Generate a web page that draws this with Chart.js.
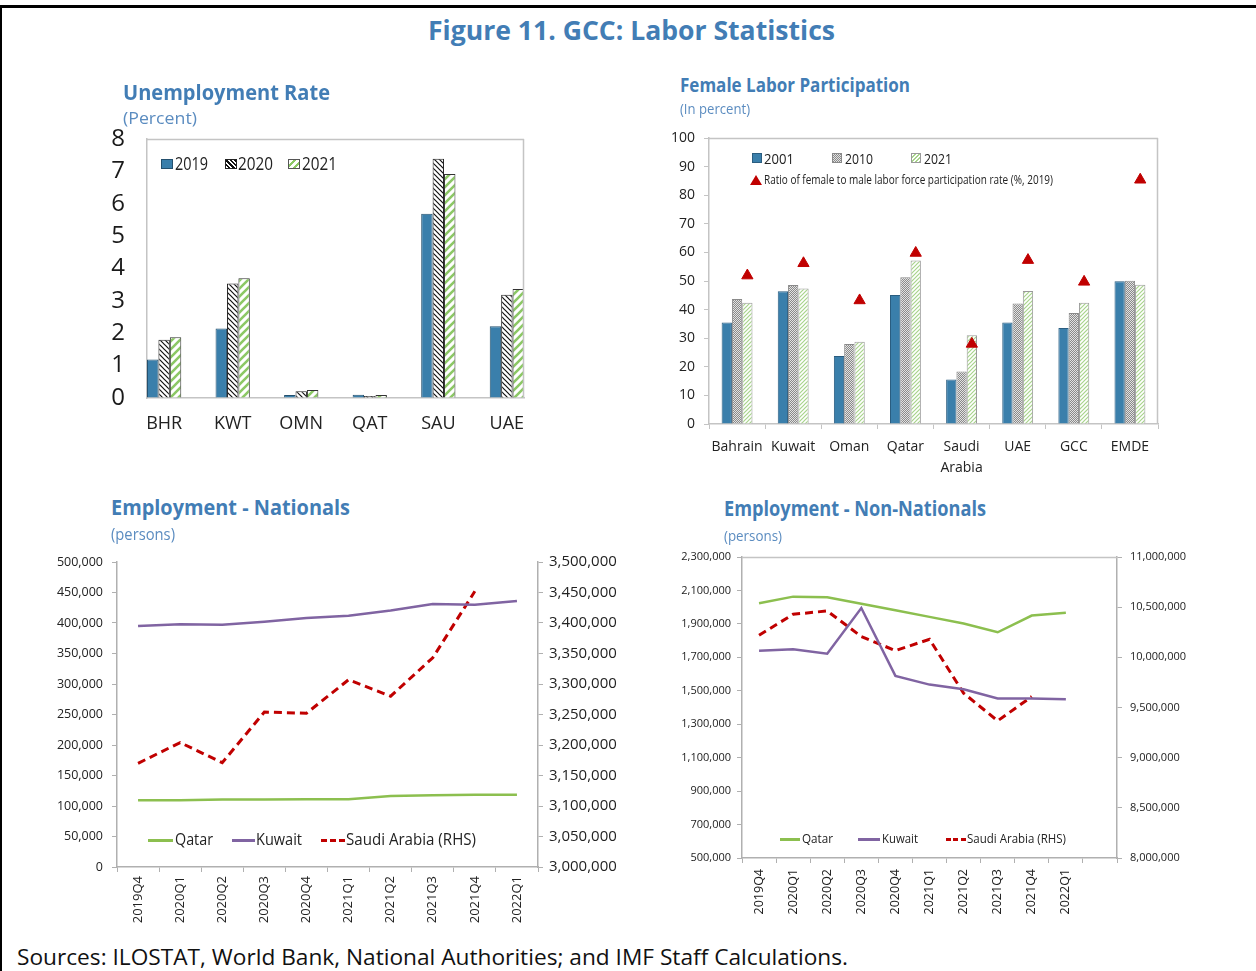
<!DOCTYPE html>
<html><head><meta charset="utf-8">
<script src="https://cdn.jsdelivr.net/npm/chart.js@4/dist/chart.umd.min.js"></script>
<style>
html,body{margin:0;padding:0;background:#fff;}
body{width:1256px;height:971px;position:relative;overflow:hidden;font-family:"Open Sans",sans-serif;}
.fr-top{position:absolute;left:0;top:5px;width:1256px;height:3px;background:#000;}
.fr-left{position:absolute;left:0;top:5px;width:2px;height:966px;background:#000;}
.t{position:absolute;white-space:nowrap;transform-origin:0 50%;}
canvas{position:absolute;}
.sw{position:absolute;box-sizing:border-box;}
</style></head>
<body>
<div class="fr-top"></div><div class="fr-left"></div>
<canvas id="c1" width="460" height="340" style="left:100px;top:100px"></canvas>
<canvas id="c2" width="540" height="370" style="left:650px;top:115px"></canvas>
<canvas id="c3" width="600" height="395" style="left:40px;top:540px"></canvas>
<canvas id="c4" width="560" height="395" style="left:660px;top:535px"></canvas>
<script>
// ---------------- DATA ----------------
const unempCats = ['BHR','KWT','OMN','QAT','SAU','UAE'];
const unemp2019 = [1.19, 2.15, 0.09, 0.10, 5.69, 2.22];
const unemp2020 = [1.80, 3.54, 0.21, 0.06, 7.39, 3.19];
const unemp2021 = [1.88, 3.70, 0.25, 0.09, 6.92, 3.37];

const flpCats  = ['Bahrain','Kuwait','Oman','Qatar',['Saudi','Arabia'],'UAE','GCC','EMDE'];
const flp2001  = [35.5, 46.4, 23.8, 45.1, 15.6, 35.5, 33.6, 49.9];
const flp2010  = [43.7, 48.6, 28.0, 51.3, 18.4, 42.1, 38.8, 50.1];
const flp2021  = [42.4, 47.4, 28.8, 57.2, 31.0, 46.5, 42.4, 48.7];
const flpRatio = [51.9, 56.2, 43.2, 59.8, 28.0, 57.3, 49.7, 85.4];

const quarters  = ['2019Q4','2020Q1','2020Q2','2020Q3','2020Q4','2021Q1','2021Q2','2021Q3','2021Q4','2022Q1'];
const natQatar  = [109500,109500,110500,110500,111000,111000,116500,117500,118300,118300];
const natKuwait = [395000,398000,397000,402000,408000,412000,420500,431000,430000,436000];
const natSaudi  = [3170000,3204000,3171000,3254000,3252000,3307000,3280000,3343000,3452000,null];

const nonQuarters = [...quarters, ''];
const nonQatar  = [2023000,2063000,2059000,2021000,1981000,1942000,1902000,1850000,1950000,1967000];
const nonKuwait = [1740000,1748000,1722000,1995000,1589000,1537000,1509000,1454000,1454000,1450000];
const nonSaudi  = [10220000,10429000,10462000,10207000,10067000,10180000,9643000,9367000,9609000,null];

// ---------------- STYLE HELPERS ----------------
Chart.defaults.font.family = "'Open Sans', sans-serif";
Chart.defaults.color = '#222';
const BLUE = '#3a7fab', GREEN_LINE = '#8cbf4f', PURPLE = '#8064a2', RED = '#c00000', AXIS = '#b5b5b5';

function hatch(bg, fg, size, lw, dir){
  const c = document.createElement('canvas'); c.width = c.height = size;
  const x = c.getContext('2d');
  x.fillStyle = bg; x.fillRect(0,0,size,size);
  x.strokeStyle = fg; x.lineWidth = lw; x.beginPath();
  if (dir > 0) { x.moveTo(-1,size+1); x.lineTo(size+1,-1); x.moveTo(-2,2); x.lineTo(2,-2); x.moveTo(size-2,size+2); x.lineTo(size+2,size-2); }
  else { x.moveTo(-1,-1); x.lineTo(size+1,size+1); x.moveTo(size-2,-2); x.lineTo(size+2,2); x.moveTo(-2,size-2); x.lineTo(2,size+2); }
  x.stroke();
  return x.createPattern(c,'repeat');
}
function stipple(){
  const c = document.createElement('canvas'); c.width = c.height = 2;
  const x = c.getContext('2d');
  x.fillStyle = '#e2e2e2'; x.fillRect(0,0,2,2);
  x.fillStyle = '#8a8a8a'; x.fillRect(0,0,1,1); x.fillRect(1,1,1,1);
  return x.createPattern(c,'repeat');
}
const fixW = w => s => { s.width = w; };
const fixH = h => s => { s.height = h; };
const fmt = v => Number(v).toLocaleString('en-US');
const toXY = arr => arr.map((v,i) => ({x:i, y:v}));
const catTicks = cats => s => { s.ticks = cats.map((_, i) => ({value: i})); };

const framePlugin = {
  id: 'frame',
  afterDatasetsDraw(chart, args, o) {
    const {ctx, chartArea: a} = chart;
    ctx.save(); ctx.strokeStyle = o.color || AXIS; ctx.lineWidth = o.width || 1; ctx.beginPath();
    if (o.top) { ctx.moveTo(a.left, a.top + 0.5); ctx.lineTo(a.right, a.top + 0.5); }
    if (o.right) { ctx.moveTo(a.right - 0.5, a.top); ctx.lineTo(a.right - 0.5, a.bottom); }
    ctx.stroke(); ctx.restore();
  }
};
const basePlugins = {legend:{display:false}, tooltip:{enabled:false}};

// ---------------- CHART 1: Unemployment ----------------
new Chart(document.getElementById('c1'), {
  type: 'bar',
  data: { datasets: [
    {data: toXY(unemp2019), backgroundColor: BLUE, borderColor: '#24506e', borderWidth: 1},
    {data: toXY(unemp2020), backgroundColor: hatch('#fff','#111',5,1.2,-1), borderColor: '#222', borderWidth: 1},
    {data: toXY(unemp2021), backgroundColor: hatch('#fff','#8cc865',8,2.6,1), borderColor: '#333', borderWidth: 1}
  ]},
  options: {
    responsive:false, animation:false,
    layout:{padding:{left:0, top:39, right:36, bottom:0}},
    datasets:{bar:{categoryPercentage:0.5, barPercentage:1.0}},
    plugins:{...basePlugins, frame:{top:true, right:true, color:'#c4c4c4', width:1.5}},
    scales:{
      x:{type:'linear', offset:false, min:-0.25, max:unempCats.length - 0.75, afterFit:fixH(42), afterBuildTicks:catTicks(unempCats),
         ticks:{autoSkip:false, maxRotation:0, font:{size:18}, color:'#222', padding:15,
                callback: v => unempCats[Math.round(v)]},
         grid:{display:true, drawOnChartArea:false, drawTicks:false}, border:{color:'#c4c4c4', width:1.5}},
      y:{min:0, max:8, afterFit:fixW(47),
         ticks:{stepSize:1, autoSkip:false, font:{size:24}, color:'#1a1a1a', padding:22},
         grid:{display:true, drawOnChartArea:false, drawTicks:false}, border:{color:'#c4c4c4', width:1.5}}
    }
  },
  plugins:[framePlugin]
});

// ---------------- CHART 2: Female Labor Participation ----------------
const FLP_CAT_PCT = 0.55;
const ratioShift = FLP_CAT_PCT / 3;   // markers sit over the third (2021) bar of each group
new Chart(document.getElementById('c2'), {
  type: 'bar',
  data: { datasets: [
    {type:'line', data: flpRatio.map((v,i) => ({x:i + ratioShift, y:v})), showLine:false,
     pointStyle:'triangle', pointRadius:6.5, pointBackgroundColor:RED, pointBorderColor:RED, pointBorderWidth:1, order:-1},
    {data: toXY(flp2001), backgroundColor: BLUE, borderColor:'#2a5d80', borderWidth:1},
    {data: toXY(flp2010), backgroundColor: stipple(), borderColor:'#8a8a8a', borderWidth:1},
    {data: toXY(flp2021), backgroundColor: hatch('#fff','#a8d48c',4,1.2,1), borderColor:'#9a9a9a', borderWidth:1}
  ]},
  options: {
    responsive:false, animation:false,
    layout:{padding:{left:0, top:23, right:32, bottom:0}},
    datasets:{bar:{categoryPercentage:FLP_CAT_PCT, barPercentage:1.0}},
    plugins:{...basePlugins, frame:{top:true, right:true, color:'#c4c4c4', width:1.5}},
    scales:{
      x:{type:'linear', offset:false, min:-0.5, max:flpCats.length - 0.5, afterFit:fixH(61), afterBuildTicks:catTicks(flpCats),
         ticks:{autoSkip:false, maxRotation:0, font:{size:14, lineHeight:1.5}, color:'#222', padding:8,
                callback: v => flpCats[Math.round(v)]},
         grid:{display:true, drawOnChartArea:false, offset:true, tickLength:5, color:'#c4c4c4'}, border:{color:'#c4c4c4', width:1.5}},
      y:{min:0, max:100, afterFit:fixW(59),
         ticks:{stepSize:10, font:{size:14}, color:'#222', padding:9},
         grid:{display:true, drawOnChartArea:false, tickLength:5, color:'#c4c4c4'}, border:{color:'#c4c4c4', width:1.5}}
    }
  },
  plugins:[framePlugin]
});

// ---------------- CHART 3: Employment - Nationals ----------------
new Chart(document.getElementById('c3'), {
  type: 'line',
  data: { labels: quarters, datasets: [
    {data: natQatar, borderColor: GREEN_LINE, borderWidth: 2.5, pointRadius:0, tension:0, yAxisID:'y'},
    {data: natKuwait, borderColor: PURPLE, borderWidth: 2.5, pointRadius:0, tension:0, yAxisID:'y'},
    {data: natSaudi, borderColor: RED, borderWidth: 3, borderDash:[8,5], pointRadius:0, tension:0, yAxisID:'y2'}
  ]},
  options: {
    responsive:false, animation:false,
    layout:{padding:{left:0, top:22, right:0, bottom:0}},
    plugins:{...basePlugins},
    scales:{
      x:{afterFit:fixH(68), offset:true,
         ticks:{autoSkip:false, minRotation:90, maxRotation:90, font:{size:13}, color:'#222', padding:4},
         grid:{display:true, drawOnChartArea:false, offset:true, tickLength:5, color:'#b0b0b0'}, border:{color:'#b0b0b0', width:1.5}},
      y:{position:'left', min:0, max:500000, afterFit:fixW(77),
         ticks:{stepSize:50000, font:{size:12.5}, color:'#222', padding:9, callback: fmt},
         grid:{display:true, drawOnChartArea:false, tickLength:5, color:'#b0b0b0'}, border:{color:'#b0b0b0', width:1.5}},
      y2:{position:'right', min:3000000, max:3500000, afterFit:fixW(102),
         ticks:{stepSize:50000, font:{size:15}, color:'#222', padding:6, callback: fmt},
         grid:{display:true, drawOnChartArea:false, tickLength:5, color:'#b0b0b0'}, border:{color:'#b0b0b0', width:1.5}}
    }
  }
});

// ---------------- CHART 4: Employment - Non-Nationals ----------------
new Chart(document.getElementById('c4'), {
  type: 'line',
  data: { labels: nonQuarters, datasets: [
    {data: nonQatar, borderColor: GREEN_LINE, borderWidth: 2.5, pointRadius:0, tension:0, yAxisID:'y'},
    {data: nonKuwait, borderColor: PURPLE, borderWidth: 2.5, pointRadius:0, tension:0, yAxisID:'y'},
    {data: nonSaudi, borderColor: RED, borderWidth: 3, borderDash:[8,5], pointRadius:0, tension:0, yAxisID:'y2'}
  ]},
  options: {
    responsive:false, animation:false,
    layout:{padding:{left:0, top:22, right:0, bottom:0}},
    plugins:{...basePlugins, frame:{top:true, color:'#c4c4c4', width:1.5}},
    scales:{
      x:{afterFit:fixH(72), offset:true,
         ticks:{autoSkip:false, minRotation:90, maxRotation:90, font:{size:12.5}, color:'#222', padding:6},
         grid:{display:true, drawOnChartArea:false, offset:true, tickLength:5, color:'#b0b0b0'}, border:{color:'#b0b0b0', width:1.5}},
      y:{position:'left', min:500000, max:2300000, afterFit:fixW(82),
         ticks:{stepSize:200000, font:{size:11}, color:'#222', padding:6, callback: fmt},
         grid:{display:true, drawOnChartArea:false, tickLength:5, color:'#b0b0b0'}, border:{color:'#b0b0b0', width:1.5}},
      y2:{position:'right', min:8000000, max:11000000, afterFit:fixW(103),
         ticks:{stepSize:500000, font:{size:11}, color:'#222', padding:8, callback: fmt},
         grid:{display:true, drawOnChartArea:false, tickLength:5, color:'#b0b0b0'}, border:{color:'#b0b0b0', width:1.5}}
    }
  },
  plugins:[framePlugin]
});

// ---------------- TEXT & LEGENDS (HTML) ----------------
function place(txt, x, y, size, width, o) {
  o = o || {};
  const el = document.createElement('div'); el.className = 't'; el.textContent = txt;
  el.style.left = x + 'px'; el.style.top = (y - 0.63 * size) + 'px';
  el.style.fontSize = size + 'px'; el.style.lineHeight = (1.2 * size) + 'px';
  el.style.fontWeight = o.bold ? '700' : '400'; el.style.color = o.color || '#222';
  document.body.appendChild(el);
  if (width) { const w = el.getBoundingClientRect().width; el.style.transform = 'scaleX(' + (width / w) + ')'; }
  return el;
}
function box(x, y, w, h, css) {
  const el = document.createElement('div'); el.className = 'sw';
  el.style.left = x + 'px'; el.style.top = y + 'px'; el.style.width = w + 'px'; el.style.height = h + 'px';
  Object.assign(el.style, css); document.body.appendChild(el); return el;
}
const TITLE = '#427db5', SUB = '#5b8cc0';
function drawTexts() {
  place('Figure 11. GCC: Labor Statistics', 428, 31, 26, 407, {bold:true, color:TITLE});
  place('Unemployment Rate', 123, 93, 21, 207, {bold:true, color:TITLE});
  place('(Percent)', 123, 119, 17, 74, {color:SUB});
  place('Female Labor Participation', 680, 86, 20, 230, {bold:true, color:TITLE});
  place('(In percent)', 680, 110, 14, 70, {color:SUB});
  place('Employment - Nationals', 111, 508, 21, 239, {bold:true, color:TITLE});
  place('(persons)', 111, 535, 16, 64, {color:SUB});
  place('Employment - Non-Nationals', 724, 509, 21, 262, {bold:true, color:TITLE});
  place('(persons)', 724, 535, 15, 58, {color:SUB});
  place('Sources: ILOSTAT, World Bank, National Authorities; and IMF Staff Calculations.', 17, 957, 22, 831, {color:'#111'});

  // chart 1 legend
  box(161, 159, 12, 10, {background: BLUE, border:'1px solid #24506e'});
  place('2019', 175, 164, 18, 33);
  box(225, 159, 12, 10, {background:'repeating-linear-gradient(45deg,#fff 0 1.6px,#111 1.6px 3.2px)', border:'1px solid #222'});
  place('2020', 238, 164, 18, 35);
  box(288, 159, 12, 10, {background:'repeating-linear-gradient(135deg,#fff 0 3px,#8cc865 3px 5px)', border:'1px solid #555'});
  place('2021', 302, 164, 18, 35);

  // chart 2 legend
  box(752, 153, 10, 10, {background: BLUE, border:'1px solid #2a5d80'});
  place('2001', 764, 158, 15, 30);
  box(832, 153, 10, 10, {background:'repeating-conic-gradient(#8a8a8a 0 25%, #e2e2e2 0 50%) 0 0/2px 2px', border:'1px solid #8a8a8a'});
  place('2010', 845, 158, 15, 28);
  box(911, 153, 10, 10, {background:'repeating-linear-gradient(135deg,#fff 0 1.5px,#a8d48c 1.5px 3px)', border:'1px solid #9a9a9a'});
  place('2021', 924, 158, 15, 28);
  box(750, 175, 12, 10, {background: RED, clipPath:'polygon(50% 0, 100% 100%, 0 100%)'});
  place('Ratio of female to male labor force participation rate (%, 2019)', 764, 180.5, 12, 289);

  // chart 3 legend
  box(148, 839, 25, 2.5, {background: GREEN_LINE});
  place('Qatar', 175, 840, 16, 38);
  box(232, 839, 23, 2.5, {background: PURPLE});
  place('Kuwait', 256, 840, 16, 46);
  box(321, 838.5, 24, 3, {background:'repeating-linear-gradient(90deg,' + RED + ' 0 6px,transparent 6px 9px)'});
  place('Saudi Arabia (RHS)', 346, 840, 16, 130);

  // chart 4 legend
  box(780, 838, 20, 2.5, {background: GREEN_LINE});
  place('Qatar', 802, 839, 12.5, 31);
  box(858, 838, 22, 2.5, {background: PURPLE});
  place('Kuwait', 882, 839, 12.5, 36);
  box(946, 837.5, 20, 3, {background:'repeating-linear-gradient(90deg,' + RED + ' 0 5px,transparent 5px 7.5px)'});
  place('Saudi Arabia (RHS)', 967, 839, 12.5, 99);
}
drawTexts();
</script>
</body></html>
